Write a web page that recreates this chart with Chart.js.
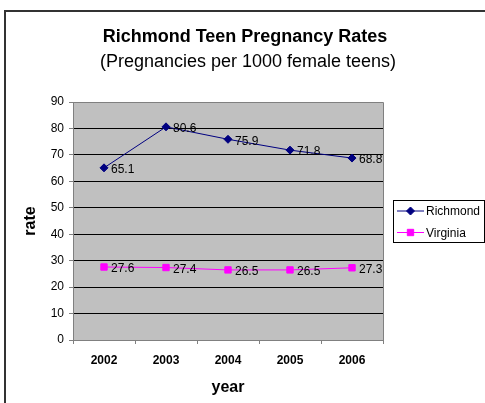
<!DOCTYPE html>
<html>
<head>
<meta charset="utf-8">
<script src="https://cdn.jsdelivr.net/npm/chart.js@4.4.0/dist/chart.umd.min.js"></script>
<style>
  body { margin: 0; background: #fff; }
  canvas { display: block; }
</style>
</head>
<body>
<canvas id="myChart" width="485" height="403"></canvas>
<script>
var years = ["2002", "2003", "2004", "2005", "2006"]
var richmond = [65.1, 80.6, 75.9, 71.8, 68.8]
var virginia = [27.6, 27.4, 26.5, 26.5, 27.3]
var yTicksMin = 0
var yTicksMax = 90
var yStep = 10
var titleText = "Richmond Teen Pregnancy Rates"
var subtitleText = "(Pregnancies per 1000 female teens)"

var FONT = "'Liberation Sans', Arial, sans-serif"

// grey plot area + outer frame
var backgroundPlugin = {
    id: "background",
    beforeDraw: function (chart) {
        var ctx = chart.ctx
        var a = chart.chartArea
        ctx.save()
        ctx.fillStyle = "#fff"
        ctx.fillRect(0, 0, chart.width, chart.height)
        ctx.strokeStyle = "#333"
        ctx.lineWidth = 2
        ctx.beginPath()
        ctx.moveTo(5, chart.height)
        ctx.lineTo(5, 11)
        ctx.lineTo(chart.width, 11)
        ctx.stroke()
        ctx.fillStyle = "#c0c0c0"
        ctx.fillRect(a.left, a.top, a.right - a.left, a.bottom - a.top)
        ctx.restore()
    },
    beforeDatasetsDraw: function (chart) {
        var ctx = chart.ctx
        var a = chart.chartArea
        ctx.save()
        ctx.strokeStyle = "#808080"
        ctx.lineWidth = 1
        ctx.beginPath()
        ctx.moveTo(a.left, a.top + 0.5)
        ctx.lineTo(a.right + 0.5, a.top + 0.5)
        ctx.lineTo(a.right + 0.5, a.bottom)
        ctx.stroke()
        ctx.restore()
    }
}

// title centred on the whole frame (not just the plot side)
var frameTitle = {
    id: "frameTitle",
    afterDraw: function (chart) {
        var ctx = chart.ctx
        ctx.save()
        ctx.fillStyle = "#000"
        ctx.textAlign = "center"
        ctx.textBaseline = "middle"
        ctx.font = "bold 18px " + FONT
        ctx.fillText(titleText, 245, 37)
        ctx.font = "18px " + FONT
        ctx.fillText(subtitleText, 248, 62)
        ctx.restore()
    }
}

// value labels to the right of each point
var valueLabels = {
    id: "valueLabels",
    afterDatasetsDraw: function (chart) {
        var ctx = chart.ctx
        ctx.save()
        ctx.font = "12px " + FONT
        ctx.fillStyle = "#000"
        ctx.textAlign = "left"
        ctx.textBaseline = "middle"
        chart.data.datasets.forEach(function (ds, i) {
            var meta = chart.getDatasetMeta(i)
            meta.data.forEach(function (pt, j) {
                ctx.fillText(ds.data[j].toFixed(1), pt.x + 7, pt.y + 2)
            })
        })
        ctx.restore()
    }
}

// boxed legend on the right
var boxLegend = {
    id: "boxLegend",
    afterDraw: function (chart) {
        var ctx = chart.ctx
        var x = 393, y = 200, w = 91, h = 42
        ctx.save()
        ctx.fillStyle = "#fff"
        ctx.fillRect(x, y, w, h)
        ctx.strokeStyle = "#000"
        ctx.lineWidth = 1
        ctx.strokeRect(x + 0.5, y + 0.5, w, h)
        ctx.font = "12px " + FONT
        ctx.textBaseline = "middle"
        chart.data.datasets.forEach(function (ds, i) {
            var cy = y + 11 + i * 21.5
            ctx.strokeStyle = ds.borderColor
            ctx.fillStyle = ds.backgroundColor
            ctx.beginPath()
            ctx.moveTo(x + 4, cy)
            ctx.lineTo(x + 31, cy)
            ctx.stroke()
            Chart.helpers.drawPoint(ctx, {
                pointStyle: ds.pointStyle,
                radius: ds.pointRadius,
                borderWidth: 1
            }, x + 17.5, cy)
            ctx.fillStyle = "#000"
            ctx.fillText(ds.label, x + 33, cy + 1)
        })
        ctx.restore()
    }
}

function drawChart() {
    var ctx = document.getElementById("myChart")
    var myChart = new Chart(ctx, {
        type: "line",
        data: {
            labels: years,
            datasets: [
                {
                    label: "Richmond",
                    data: richmond,
                    borderColor: "#000080",
                    backgroundColor: "#000080",
                    borderWidth: 1,
                    pointStyle: "rectRot",
                    pointRadius: 4,
                    pointBorderWidth: 1,
                    tension: 0
                },
                {
                    label: "Virginia",
                    data: virginia,
                    borderColor: "#ff00ff",
                    backgroundColor: "#ff00ff",
                    borderWidth: 1,
                    pointStyle: "rect",
                    pointRadius: 4.5,
                    pointBorderWidth: 1,
                    tension: 0
                }
            ]
        },
        options: {
            responsive: false,
            animation: false,
            layout: { padding: { top: 102, left: 8, right: 102, bottom: 0 } },
            plugins: {
                legend: { display: false },
                tooltip: { enabled: false },
                title: { display: false }
            },
            scales: {
                x: {
                    offset: true,
                    afterFit: function (scale) { scale.height = 63 },
                    grid: {
                        offset: true,
                        drawOnChartArea: false,
                        tickLength: 4,
                        color: "#808080"
                    },
                    border: { color: "#808080", width: 1 },
                    ticks: {
                        color: "#000",
                        padding: 9,
                        font: { family: FONT, size: 12, weight: "bold" }
                    },
                    title: {
                        display: true,
                        text: "year",
                        color: "#000",
                        font: { family: FONT, size: 16, weight: "bold" },
                        padding: { top: 0, bottom: 6 }
                    }
                },
                y: {
                    min: yTicksMin,
                    max: yTicksMax,
                    afterFit: function (scale) { scale.width = 65 },
                    grid: {
                        tickLength: 4,
                        color: function (c) {
                            return (c.tick && (c.tick.value === yTicksMax || c.tick.value === yTicksMin)) ? "#808080" : "#000"
                        },
                        tickColor: "#808080"
                    },
                    border: { color: "#808080", width: 1 },
                    ticks: {
                        stepSize: yStep,
                        color: "#000",
                        padding: 5,
                        font: { family: FONT, size: 12 }
                    },
                    title: {
                        display: true,
                        text: "rate",
                        color: "#000",
                        font: { family: FONT, size: 16, weight: "bold" },
                        padding: { top: 13, bottom: 0 }
                    }
                }
            }
        },
        plugins: [backgroundPlugin, valueLabels, boxLegend, frameTitle]
    })
}

drawChart()
</script>
</body>
</html>
